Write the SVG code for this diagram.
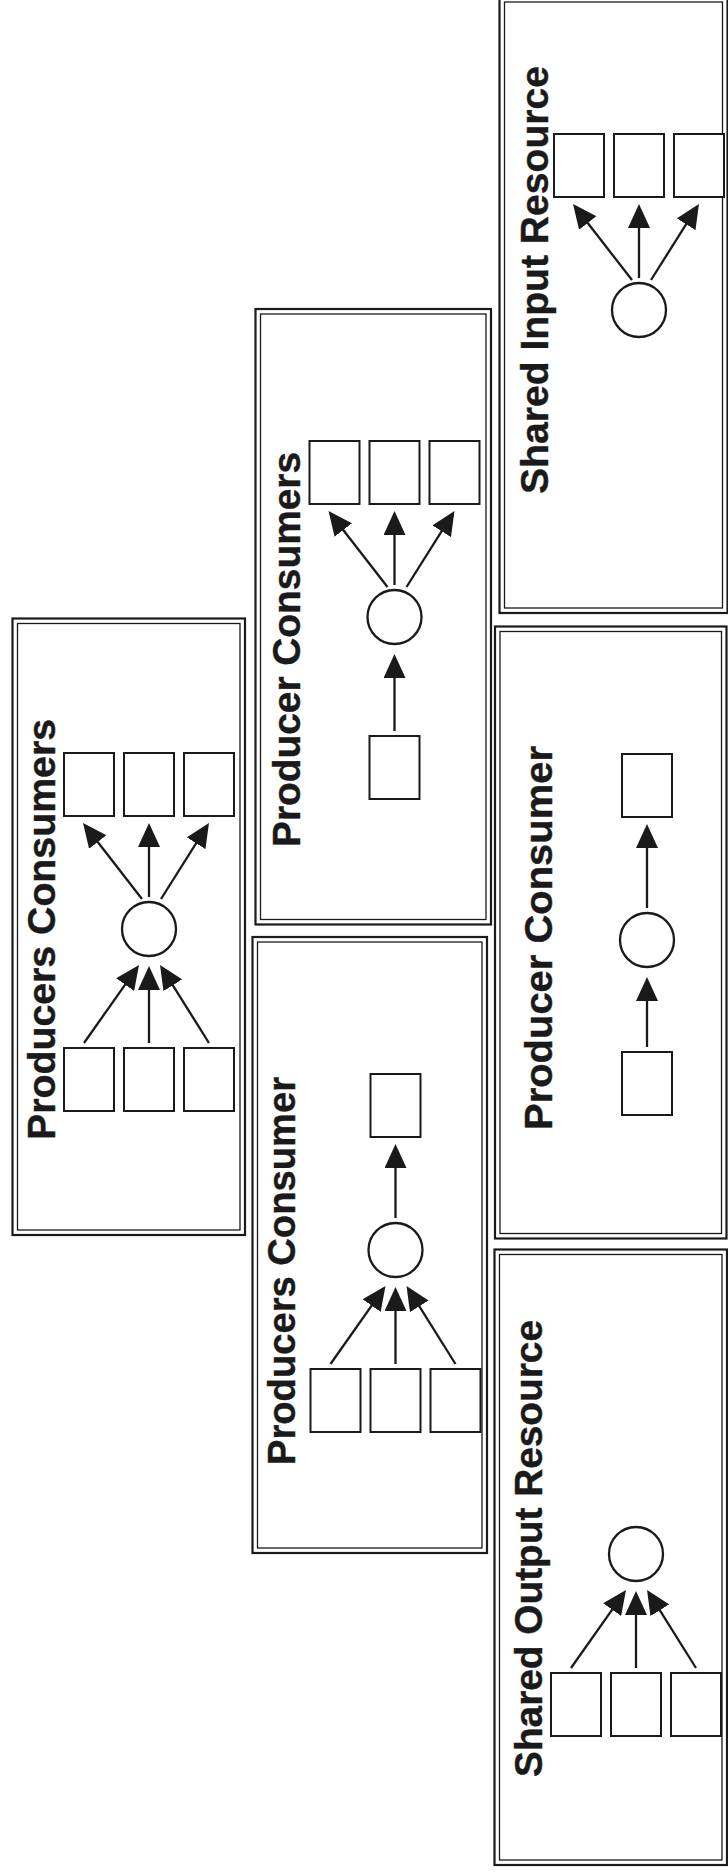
<svg xmlns="http://www.w3.org/2000/svg" width="728" height="1876" viewBox="0 0 728 1876">
  <defs>
    <marker id="ah" markerUnits="userSpaceOnUse" viewBox="0 0 24 22" markerWidth="24" markerHeight="22" refX="19" refY="11" orient="auto">
      <path d="M0,0 L24,11 L0,22 z" fill="#1a1a1a"/>
    </marker>
    <style>
      .outer { fill: none; stroke: #1a1a1a; stroke-width: 2.2; }
      .inner { fill: none; stroke: #1a1a1a; stroke-width: 1.3; }
      .sq { fill: #ffffff; stroke: #1a1a1a; stroke-width: 2; }
      .res { fill: #ffffff; stroke: #1a1a1a; stroke-width: 2.3; }
      .lbl { font-family: "Liberation Sans", Arial, sans-serif; font-weight: bold; font-size: 39px; fill: #1a1a1a; stroke: #1a1a1a; stroke-width: 0.4; }
      .arr { fill: none; stroke: #1a1a1a; stroke-width: 2.3; marker-end: url(#ah); }
    </style>
  </defs>
  <rect x="0" y="0" width="728" height="1876" fill="#ffffff"/>

  <!-- Panel A: Producers Consumers -->
  <g id="panel-producers-consumers">
    <rect class="outer" x="12.5" y="618.5" width="232.5" height="616.5"/>
    <rect class="inner" x="17.5" y="623.5" width="222.5" height="606.5"/>
    <text class="lbl" transform="translate(55,1140) rotate(-90)" textLength="421" lengthAdjust="spacingAndGlyphs">Producers Consumers</text>
    <g transform="translate(149,929)">
      <rect class="sq" x="-85" y="-176" width="50" height="63"/>
      <rect class="sq" x="-25" y="-176" width="50" height="63"/>
      <rect class="sq" x="35" y="-176" width="50" height="63"/>
      <circle class="res" cx="0" cy="0" r="27"/>
      <rect class="sq" x="-85" y="119" width="50" height="63"/>
      <rect class="sq" x="-25" y="119" width="50" height="63"/>
      <rect class="sq" x="35" y="119" width="50" height="63"/>
    </g>
  </g>

  <!-- Panel D: Producer Consumers -->
  <g id="panel-producer-consumers">
    <rect class="outer" x="255.5" y="309" width="235.5" height="615.5"/>
    <rect class="inner" x="260.5" y="314" width="225.5" height="605.5"/>
    <text class="lbl" transform="translate(300,847) rotate(-90)" textLength="395" lengthAdjust="spacingAndGlyphs">Producer Consumers</text>
    <g transform="translate(394.5,617)">
      <rect class="sq" x="-85" y="-176" width="50" height="63"/>
      <rect class="sq" x="-25" y="-176" width="50" height="63"/>
      <rect class="sq" x="35" y="-176" width="50" height="63"/>
      <circle class="res" cx="0" cy="0" r="27"/>
      <rect class="sq" x="-25" y="119" width="50" height="63"/>
    </g>
  </g>

  <!-- Panel F: Shared Input Resource -->
  <g id="panel-shared-input-resource">
    <rect class="outer" x="499.5" y="-3" width="228" height="616"/>
    <rect class="inner" x="504.5" y="2" width="218" height="606"/>
    <text class="lbl" transform="translate(548,494) rotate(-90)" textLength="428" lengthAdjust="spacingAndGlyphs">Shared Input Resource</text>
    <g transform="translate(639,310)">
      <rect class="sq" x="-85" y="-176" width="50" height="63"/>
      <rect class="sq" x="-25" y="-176" width="50" height="63"/>
      <rect class="sq" x="35" y="-176" width="50" height="63"/>
      <circle class="res" cx="0" cy="0" r="27"/>
    </g>
  </g>

  <!-- Panel B: Producers Consumer -->
  <g id="panel-producers-consumer">
    <rect class="outer" x="252.5" y="937" width="234.5" height="616"/>
    <rect class="inner" x="257.5" y="942" width="224.5" height="606"/>
    <text class="lbl" transform="translate(295,1465) rotate(-90)" textLength="388" lengthAdjust="spacingAndGlyphs">Producers Consumer</text>
    <g transform="translate(395.5,1250)">
      <rect class="sq" x="-25" y="-176" width="50" height="63"/>
      <circle class="res" cx="0" cy="0" r="27"/>
      <rect class="sq" x="-85" y="119" width="50" height="63"/>
      <rect class="sq" x="-25" y="119" width="50" height="63"/>
      <rect class="sq" x="35" y="119" width="50" height="63"/>
    </g>
  </g>

  <!-- Panel E: Producer Consumer -->
  <g id="panel-producer-consumer">
    <rect class="outer" x="495" y="626.5" width="231.5" height="612"/>
    <rect class="inner" x="500" y="631.5" width="221.5" height="602"/>
    <text class="lbl" transform="translate(552,1130) rotate(-90)" textLength="384" lengthAdjust="spacingAndGlyphs">Producer Consumer</text>
    <g transform="translate(647,940)">
      <rect class="sq" x="-25" y="-186" width="50" height="63"/>
      <circle class="res" cx="0" cy="0" r="27"/>
      <rect class="sq" x="-25" y="112" width="50" height="63"/>
    </g>
  </g>

  <!-- Panel C: Shared Output Resource -->
  <g id="panel-shared-output-resource">
    <rect class="outer" x="494.5" y="1249.5" width="232.5" height="615.5"/>
    <rect class="inner" x="499.5" y="1254.5" width="222.5" height="605.5"/>
    <text class="lbl" transform="translate(542,1777) rotate(-90)" textLength="457" lengthAdjust="spacingAndGlyphs">Shared Output Resource</text>
    <g transform="translate(636,1554)">
      <circle class="res" cx="0" cy="0" r="27"/>
      <rect class="sq" x="-85" y="119" width="50" height="63"/>
      <rect class="sq" x="-25" y="119" width="50" height="63"/>
      <rect class="sq" x="35" y="119" width="50" height="63"/>
    </g>
  </g>

  <!-- Connectors -->
  <g id="connectors">
    <g transform="translate(149,929)">
      <line class="arr" x1="-7" y1="-30" x2="-62.9" y2="-102"/>
      <line class="arr" x1="0" y1="-32" x2="0" y2="-101"/>
      <line class="arr" x1="12" y1="-30" x2="57.3" y2="-101.8"/>
      <line class="arr" x1="-65" y1="114" x2="-12.9" y2="40.1"/>
      <line class="arr" x1="0" y1="114" x2="0" y2="42"/>
      <line class="arr" x1="60" y1="114" x2="13.7" y2="40.2"/>
    </g>
    <g transform="translate(394.5,617)">
      <line class="arr" x1="-7" y1="-30" x2="-62.9" y2="-102"/>
      <line class="arr" x1="0" y1="-32" x2="0" y2="-101"/>
      <line class="arr" x1="12" y1="-30" x2="57.3" y2="-101.8"/>
      <line class="arr" x1="0" y1="114" x2="0" y2="42"/>
    </g>
    <g transform="translate(639,310)">
      <line class="arr" x1="-7" y1="-30" x2="-62.9" y2="-102"/>
      <line class="arr" x1="0" y1="-32" x2="0" y2="-101"/>
      <line class="arr" x1="12" y1="-30" x2="57.3" y2="-101.8"/>
    </g>
    <g transform="translate(395.5,1250)">
      <line class="arr" x1="0" y1="-32" x2="0" y2="-101"/>
      <line class="arr" x1="-65" y1="114" x2="-12.9" y2="40.1"/>
      <line class="arr" x1="0" y1="114" x2="0" y2="42"/>
      <line class="arr" x1="60" y1="114" x2="13.7" y2="40.2"/>
    </g>
    <g transform="translate(647,940)">
      <line class="arr" x1="0" y1="-32" x2="0" y2="-111"/>
      <line class="arr" x1="0" y1="107" x2="0" y2="42"/>
    </g>
    <g transform="translate(636,1554)">
      <line class="arr" x1="-65" y1="114" x2="-12.9" y2="40.1"/>
      <line class="arr" x1="0" y1="114" x2="0" y2="42"/>
      <line class="arr" x1="60" y1="114" x2="13.7" y2="40.2"/>
    </g>
  </g>
</svg>
